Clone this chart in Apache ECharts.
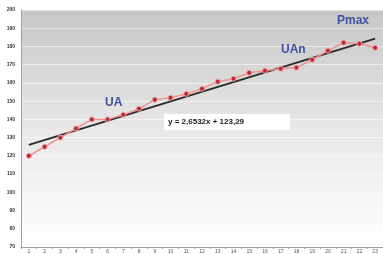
<!DOCTYPE html>
<html>
<head>
<meta charset="utf-8">
<script src="https://cdn.jsdelivr.net/npm/echarts@6/dist/echarts.min.js"></script>
<style>
  html, body { margin: 0; padding: 0; background: #fff; }
  #chart { width: 383px; height: 254px; }
</style>
</head>
<body>
<div id="chart"></div>
<script>
  // data
  const categories = ['1','2','3','4','5','6','7','8','9','10','11','12','13','14','15','16','17','18','19','20','21','22','23'];
  const measured = [120, 125, 130, 135, 140, 140, 142.5, 145.8, 150.8, 151.9, 154, 156.8, 160.7, 162.3, 165.6, 166.7, 167.8, 168.4, 172.7, 177.7, 182.1, 181.5, 179.3];
  // trend line end points (first and last category)
  const trendEnds = [126, 184.3];
  const equationText = 'y = 2,6532x + 123,29';

  const chart = echarts.init(document.getElementById('chart'));

  const option = {
    animation: false,
    backgroundColor: '#ffffff',
    grid: {
      left: 21, top: 10, right: -11, bottom: 7,
      show: true,
      borderWidth: 0,
      backgroundColor: {
        type: 'linear', x: 0, y: 0, x2: 0, y2: 1,
        colorStops: [
          { offset: 0, color: '#c6c6c6' },
          { offset: 0.5, color: '#e8e8e8' },
          { offset: 1, color: '#ffffff' }
        ]
      }
    },
    xAxis: {
      type: 'category',
      data: categories,
      boundaryGap: true,
      axisLine: { lineStyle: { color: '#a0a0a0', width: 1 } },
      axisTick: { show: true, length: 2, lineStyle: { color: '#a0a0a0' } },
      axisLabel: { fontSize: 5, color: '#555', margin: 2, interval: 0 },
      splitLine: { show: false }
    },
    yAxis: {
      type: 'value',
      min: 70, max: 200, interval: 10,
      axisLine: { show: true, lineStyle: { color: '#a0a0a0', width: 1 } },
      axisTick: { show: false },
      axisLabel: { fontSize: 5, color: '#333', fontWeight: 'bold', margin: 6 },
      splitLine: { show: true, lineStyle: { color: 'rgba(255,255,255,0.55)', width: 1 } }
    },
    series: [
      {
        name: 'trend',
        type: 'line',
        data: [[0, trendEnds[0]], [categories.length - 1, trendEnds[1]]],
        symbol: 'none',
        lineStyle: { color: '#2b2b2b', width: 2 },
        z: 2
      },
      {
        name: 'measured',
        type: 'line',
        data: measured,
        symbol: 'circle',
        symbolSize: 5,
        itemStyle: { color: '#b82a35', borderColor: '#f2a0a0', borderWidth: 1 },
        lineStyle: { color: '#f09090', width: 1.5 },
        z: 3
      }
    ],
    graphic: [
      {
        type: 'rect', left: 164, top: 114,
        shape: { width: 126, height: 16 },
        style: { fill: '#ffffff' }, z: 10
      },
      {
        type: 'text', left: 168, top: 118,
        style: { text: equationText, fontSize: 8, fontWeight: 'bold', fill: '#222', fontFamily: 'Liberation Sans' },
        z: 11
      },
      {
        type: 'text', left: 105, top: 97,
        style: { text: 'UA', fontSize: 12, fontWeight: 'bold', fill: '#4050a2', fontFamily: 'Liberation Sans' },
        z: 11
      },
      {
        type: 'text', left: 281, top: 44,
        style: { text: 'UAn', fontSize: 12, fontWeight: 'bold', fill: '#4050a2', fontFamily: 'Liberation Sans' },
        z: 11
      },
      {
        type: 'text', left: 337, top: 15,
        style: { text: 'Pmax', fontSize: 12, fontWeight: 'bold', fill: '#4050a2', fontFamily: 'Liberation Sans' },
        z: 11
      }
    ]
  };

  chart.setOption(option);
</script>
</body>
</html>
